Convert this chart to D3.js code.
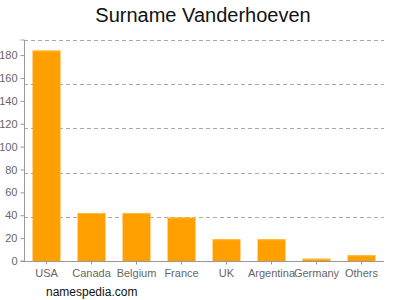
<!DOCTYPE html>
<html>
<head>
<meta charset="utf-8">
<script src="https://cdn.jsdelivr.net/npm/d3@7"></script>
<style>
  body { margin: 0; background: #fff; }
  svg { display: block; font-family: "Liberation Sans", Arial, sans-serif; }
</style>
</head>
<body>
<div id="chart"></div>
<script>
// data
const countries = ["USA", "Canada", "Belgium", "France", "UK", "Argentina", "Germany", "Others"];
const counts = [184, 42, 42, 38, 19, 19, 2, 5];
const yTicks = [0, 20, 40, 60, 80, 100, 120, 140, 160, 180];

const width = 400, height = 300;
const margin = {top: 40, right: 16, bottom: 39, left: 24};

let svg = d3.select("#chart").append("svg")
    .attr("width", width)
    .attr("height", height);

let yMax = d3.max(counts) * 1.05;

let x = d3.scaleBand()
    .domain(countries)
    .range([margin.left, width - margin.right])
    .paddingInner(0.38)
    .paddingOuter(0.19);

let y = d3.scaleLinear()
    .domain([0, yMax])
    .range([height - margin.bottom, margin.top]);

// title
svg.append("text")
    .attr("x", 203)
    .attr("y", 22)
    .attr("text-anchor", "middle")
    .attr("font-size", 20)
    .attr("fill", "#111")
    .text("Surname Vanderhoeven");

// dashed grid: 5 equal parts of the domain
let gridVals = d3.range(1, 6).map(i => yMax * i / 5);
svg.append("g")
    .selectAll("line")
    .data(gridVals)
    .join("line")
    .attr("x1", margin.left)
    .attr("x2", width - margin.right)
    .attr("y1", d => Math.round(y(d)) + 0.5)
    .attr("y2", d => Math.round(y(d)) + 0.5)
    .attr("stroke", "#aaa")
    .attr("stroke-dasharray", "4,3");

// bars
svg.append("g")
    .selectAll("rect")
    .data(counts)
    .join("rect")
    .attr("x", (d, i) => x(countries[i]))
    .attr("width", x.bandwidth())
    .attr("y", d => y(d))
    .attr("height", d => y(0) - y(d))
    .attr("fill", "#ffa000");

// lighter top edge on the bars
svg.append("g")
    .selectAll("rect")
    .data(counts)
    .join("rect")
    .attr("x", (d, i) => x(countries[i]))
    .attr("width", x.bandwidth())
    .attr("y", d => y(d))
    .attr("height", 1)
    .attr("fill", "#ffc040");

// y axis
let yAxis = svg.append("g")
    .attr("transform", `translate(${margin.left + 0.5},0)`)
    .call(d3.axisLeft(y).tickValues(yTicks).tickSize(4).tickPadding(3));
yAxis.select(".domain").attr("stroke", "#999").attr("d", `M-4,${y(yMax)}H0V${y(0)}H-4`);
yAxis.selectAll(".tick line").attr("stroke", "#999");
yAxis.selectAll(".tick text").attr("fill", "#666").attr("font-size", 11)
    .attr("font-family", "Liberation Sans, Arial, sans-serif");

// x axis
let xAxis = svg.append("g")
    .attr("transform", `translate(0,${y(0) + 0.5})`)
    .call(d3.axisBottom(x).tickSize(3).tickPadding(5));
xAxis.select(".domain").attr("stroke", "#999")
    .attr("d", `M${margin.left},0H${width - margin.right}`);
xAxis.selectAll(".tick line").attr("stroke", "#999");
xAxis.selectAll(".tick text").attr("fill", "#666").attr("font-size", 11)
    .attr("font-family", "Liberation Sans, Arial, sans-serif");

// footer
svg.append("text")
    .attr("x", 46)
    .attr("y", 296)
    .attr("font-size", 12)
    .attr("fill", "#111")
    .text("namespedia.com");
</script>
</body>
</html>
